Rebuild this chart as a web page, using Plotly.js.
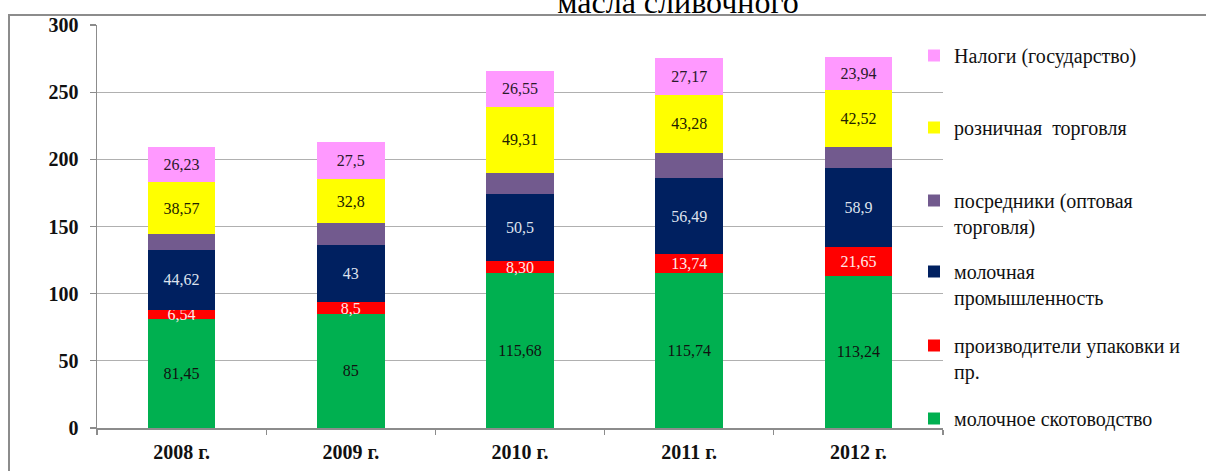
<!DOCTYPE html>
<html>
<head>
<meta charset="utf-8">
<script src="https://cdn.plot.ly/plotly-3.0.1.min.js"></script>
<style>
  html, body { margin: 0; padding: 0; background: #fff; }
  #wrap { position: relative; width: 1206px; height: 471px; overflow: hidden; }
  #chart { position: absolute; left: 0; top: 0; width: 1206px; height: 471px; }
  #frame { position: absolute; left: 8px; top: 14px; width: 1300px; height: 600px;
           border-left: 2px solid #8c8c8c; border-top: 2px solid #8c8c8c; pointer-events: none; }
</style>
</head>
<body>
<div id="wrap">
  <div id="chart"></div>
  <div id="frame"></div>
</div>
<script>
// ---- data ----
const years = ['2008 г.', '2009 г.', '2010 г.', '2011 г.', '2012 г.'];

const dairyFarming   = [81.45, 85, 115.68, 115.74, 113.24];   // молочное скотоводство
const packaging      = [6.54, 8.5, 8.30, 13.74, 21.65];       // производители упаковки и пр.
const dairyIndustry  = [44.62, 43, 50.5, 56.49, 58.9];        // молочная промышленность
const intermediaries = [11.6, 16, 15.5, 19, 15.6];            // посредники (оптовая торговля) – unlabeled, estimated
const retail         = [38.57, 32.8, 49.31, 43.28, 42.52];    // розничная торговля
const taxes          = [26.23, 27.5, 26.55, 27.17, 23.94];    // Налоги (государство)

const dairyFarmingLabels  = ['81,45', '85', '115,68', '115,74', '113,24'];
const packagingLabels     = ['6,54', '8,5', '8,30', '13,74', '21,65'];
const dairyIndustryLabels = ['44,62', '43', '50,5', '56,49', '58,9'];
const retailLabels        = ['38,57', '32,8', '49,31', '43,28', '42,52'];
const taxesLabels         = ['26,23', '27,5', '26,55', '27,17', '23,94'];

const yTicks = [0, 50, 100, 150, 200, 250, 300];

// ---- styling ----
const SERIF = '"Liberation Serif", "Times New Roman", serif';
const plotL = 97, plotR = 943, plotT = 25, plotB = 428;
const W = 1206, H = 471;

function px2paperY(py) { return (plotB - py) / (plotB - plotT); }
function px2paperX(px) { return (px - plotL) / (plotR - plotL); }

function barTrace(name, vals, labels, color, textColor, legendId) {
  return {
    type: 'bar',
    name: name,
    x: years,
    y: vals,
    text: labels,
    textposition: labels ? 'inside' : 'none',
    insidetextanchor: 'middle',
    textangle: 0,
    constraintext: 'none',
    textfont: { family: SERIF, size: 16, color: textColor },
    marker: { color: color, line: { width: 0 } },
    legend: legendId,
    hoverinfo: 'x+y+name',
    cliponaxis: false
  };
}

const traces = [
  barTrace('молочное скотоводство', dairyFarming, dairyFarmingLabels, '#00B050', '#111111', 'legend6'),
  barTrace('производители упаковки и<br>пр.', packaging, packagingLabels, '#FF0000', '#ffe8e8', 'legend5'),
  barTrace('молочная<br>промышленность', dairyIndustry, dairyIndustryLabels, '#002060', '#dfe3ee', 'legend4'),
  barTrace('посредники (оптовая<br>торговля)', intermediaries, null, '#725A8E', '#ffffff', 'legend3'),
  barTrace('розничная  торговля', retail, retailLabels, '#FFFF00', '#222200', 'legend2'),
  barTrace('Налоги (государство)', taxes, taxesLabels, '#FF99FF', '#2a1a2a', 'legend')
];

// legend item first-line centers in pixels (top to bottom)
const legendCenters = [57, 129, 202, 273, 347, 420];
const legendIds = ['legend', 'legend2', 'legend3', 'legend4', 'legend5', 'legend6'];
const legendTextLeft = 954;

const layout = {
  width: W, height: H,
  margin: { l: plotL, r: W - plotR, t: plotT, b: H - plotB, pad: 0 },
  paper_bgcolor: 'rgba(0,0,0,0)',
  plot_bgcolor: 'rgba(0,0,0,0)',
  barmode: 'stack',
  bargap: 0.6,
  font: { family: SERIF, color: '#000' },
  title: {
    text: 'масла сливочного',
    font: { family: SERIF, size: 32, color: '#000' },
    x: 678 / W, xanchor: 'center', xref: 'container',
    y: 0.996, yanchor: 'middle', yref: 'container'
  },
  xaxis: {
    type: 'category',
    showgrid: false,
    showline: true, linecolor: '#8c8c8c', linewidth: 1.5,
    ticks: 'outside', tickson: 'boundaries', ticklen: 5, tickcolor: '#8c8c8c', tickwidth: 1.2,
    tickfont: { family: SERIF, size: 20, color: '#111', weight: 'bold' },
    ticklabelstandoff: 5,
    zeroline: false
  },
  yaxis: {
    range: [0, 300],
    tickvals: yTicks,
    showgrid: true, gridcolor: '#b0b0b0', gridwidth: 1.3,
    showline: true, linecolor: '#8c8c8c', linewidth: 1.5,
    ticks: 'outside', ticklen: 6, tickcolor: '#8c8c8c', tickwidth: 1.2,
    tickfont: { family: SERIF, size: 20, color: '#111', weight: 'bold' },
    ticklabelstandoff: 7,
    zeroline: false
  },
  showlegend: true
};

legendIds.forEach((id, i) => {
  layout[id] = {
    x: px2paperX(legendTextLeft - 40),
    xanchor: 'left',
    y: px2paperY(legendCenters[i] - 21),
    yanchor: 'top',
    bgcolor: 'rgba(0,0,0,0)',
    borderwidth: 0,
    valign: 'top',
    itemwidth: 30,
    font: { family: SERIF, size: 20, color: '#111' }
  };
});

Plotly.newPlot('chart', traces, layout, { displayModeBar: false, staticPlot: true });
</script>
</body>
</html>
